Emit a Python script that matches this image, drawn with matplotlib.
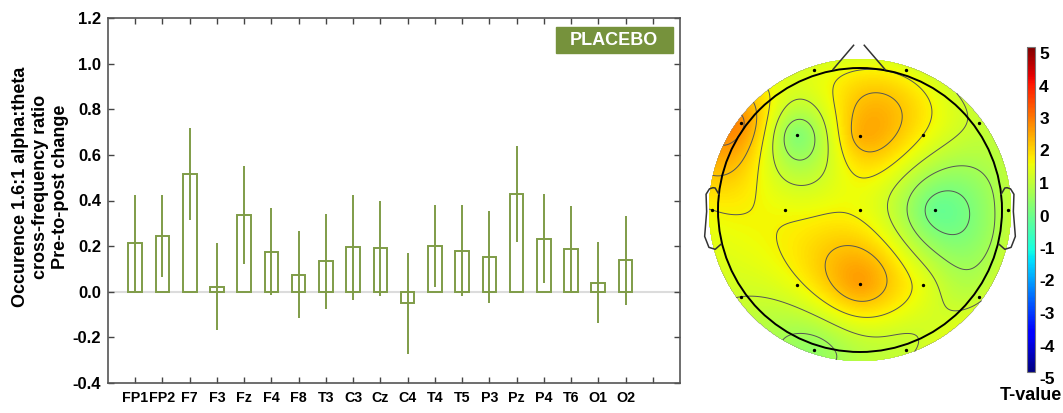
import numpy as np
import matplotlib
matplotlib.use('Agg')
import matplotlib.pyplot as plt
from matplotlib.patches import Circle, Rectangle
from matplotlib.transforms import ScaledTranslation

plt.rcParams['font.family'] = ['Liberation Sans', 'DejaVu Sans']
plt.rcParams['font.weight'] = 'bold'
plt.rcParams['axes.unicode_minus'] = False

# pre-to-post change per channel (mean and error half-width)
channels = ['FP1', 'FP2', 'F7', 'F3', 'Fz', 'F4', 'F8', 'T3', 'C3', 'Cz',
            'C4', 'T4', 'T5', 'P3', 'Pz', 'P4', 'T6', 'O1', 'O2']
change = [0.213, 0.243, 0.516, 0.022, 0.335, 0.175, 0.075, 0.133, 0.196, 0.190,
          -0.051, 0.199, 0.180, 0.152, 0.428, 0.232, 0.186, 0.039, 0.138]
err = [0.21, 0.18, 0.20, 0.19, 0.215, 0.19, 0.19, 0.21, 0.23, 0.21,
       0.223, 0.18, 0.20, 0.20, 0.21, 0.195, 0.19, 0.177, 0.195]

# electrode layout (angle from nose in deg, radius in head radii) and T-values
elec_theta = [-18, 18, -54, -40, 0, 40, 54, -90, -90, 0,
              90, 90, -126, -140, 180, 140, 126, -162, 162]
elec_rad = [1.04, 1.04, 1.04, 0.69, 0.52, 0.69, 1.04, 1.04, 0.53, 0.0,
            0.53, 1.04, 1.04, 0.69, 0.52, 0.69, 1.04, 1.04, 1.04]
tvals = [1.2, 1.3, 2.6, 0.15, 2.2, 1.5, 0.9, 1.5, 1.4, 1.4,
         -0.2, 0.8, 1.0, 1.4, 2.4, 1.3, 0.9, 0.3, 0.9]

green = '#7f9c47'

fig = plt.figure(figsize=(10.63, 4.13), dpi=100)

# ---- bar chart ----
ax = fig.add_axes([108 / 1063, 30 / 413, 572 / 1063, 365 / 413])
x = np.arange(1, len(channels) + 1)
ch = np.array(change)
er = np.array(err)
ax.axhline(0, color='#dcdcdc', lw=1.5, zorder=1)
ax.bar(x, ch, width=0.5, fill=False, edgecolor=green, linewidth=1.4, zorder=2)
ax.vlines(x, ch - er, ch + er, color=green, lw=1.4, zorder=3)

ax.set_xlim(0, len(channels) + 2)
ax.set_ylim(-0.4, 1.2)
ax.set_xticks(np.arange(1, len(channels) + 2))
ax.set_xticklabels(channels + [''])
yt = np.arange(-0.4, 1.21, 0.2)
ax.set_yticks(yt)
ax.set_yticklabels(['%.1f' % v for v in yt])
ax.tick_params(direction='in', top=True, right=True, length=4, width=1,
               color='#444444', labelsize=12)
ax.tick_params(axis='x', pad=6, labelsize=10.3)
ax.tick_params(axis='y', pad=5)
for s in ax.spines.values():
    s.set_color('#555555')
    s.set_linewidth(1.2)

ax.set_ylabel('Occurence 1.6:1 alpha:theta\ncross-frequency ratio\nPre-to-post change',
              fontsize=13, fontweight='bold', linespacing=1.2,
              ha='center', va='center', multialignment='center')
ax.yaxis.set_label_coords(-0.118, 0.537)

# group tag
ax.add_patch(Rectangle((0.783, 0.904), 0.2045, 0.0712, transform=ax.transAxes,
                       fc='#76923c', ec='#76923c', zorder=4))
ax.text(0.783 + 0.2045 / 2, 0.904 + 0.0712 / 2, 'PLACEBO', transform=ax.transAxes,
        ha='center', va='center', color='white', fontsize=13, fontweight='bold', zorder=5)

# ---- scalp map ----
R = 142.0
tax = fig.add_axes([690 / 1063, 33 / 413, 335 / 1063, 350 / 413])
tax.set_xlim(-170 / R, 165 / R)
tax.set_ylim(-170 / R, 180 / R)
tax.axis('off')

th = np.deg2rad(elec_theta)
ex = np.array(elec_rad) * np.sin(th)
ey = np.array(elec_rad) * np.cos(th)
tv = np.array(tvals)


def green_fn(d):
    out = np.zeros_like(d)
    m = d > 0
    out[m] = d[m] ** 2 * (np.log(d[m]) - 1)
    return out


# biharmonic spline interpolation over the scalp
dm = np.hypot(ex[:, None] - ex[None, :], ey[:, None] - ey[None, :])
w = np.linalg.solve(green_fn(dm), tv)
plotrad = 1.07
g = np.linspace(-plotrad, plotrad, 300)
gx, gy = np.meshgrid(g, g)
dg = np.hypot(gx[..., None] - ex, gy[..., None] - ey)
zi = green_fn(dg) @ w
outside = np.hypot(gx, gy) > plotrad
zi_m = np.ma.masked_where(outside, zi)

im = tax.imshow(zi_m, extent=[-plotrad, plotrad, -plotrad, plotrad], origin='lower',
                cmap='jet', vmin=-5, vmax=5, interpolation='bilinear', zorder=1)
clip = Circle((0, 0), plotrad, transform=tax.transData, fc='none', ec='none')
im.set_clip_path(clip)
cs = tax.contour(gx, gy, zi_m, levels=np.arange(-5, 5.01, 0.5), colors='#555555',
                 linewidths=0.7, zorder=2)

tax.add_patch(Circle((0, 0), 1.0, fill=False, ec='black', lw=1.4, zorder=3))
earx = np.array([0.994, 1.02, 1.036, 1.06, 1.084, 1.08, 1.094, 1.064, 1.02, 0.978])
eary = np.array([0.111, 0.155, 0.157, 0.149, 0.111, -0.011, -0.186, -0.263, -0.277, -0.24])
tax.plot(earx, eary, color='#333333', lw=1.1, zorder=3)
tax.plot(-earx, eary, color='#333333', lw=1.1, zorder=3)
tax.plot([-0.19, -0.045], [0.99, 1.16], color='#333333', lw=1.1, zorder=3)
tax.plot([0.03, 0.176], [1.16, 0.99], color='#333333', lw=1.1, zorder=3)
tax.scatter(ex, ey, s=2, color='black', zorder=4)

# colour scale
cax = fig.add_axes([1027 / 1063, 41 / 413, 8 / 1063, 325 / 413])
cb = fig.colorbar(im, cax=cax, ticks=np.arange(-5, 6, 1))
cb.outline.set_edgecolor('#777777')
cb.outline.set_linewidth(0.8)
cax.tick_params(length=0, labelsize=12.5, pad=3)
shift = ScaledTranslation(0, -6 / 100, fig.dpi_scale_trans)
for lab in cax.get_yticklabels():
    lab.set_fontweight('bold')
    lab.set_transform(lab.get_transform() + shift)
fig.text(1031 / 1063, 1 - 396 / 413, 'T-value', ha='center', va='center',
         fontsize=13, fontweight='bold')

fig.savefig('out.png', dpi=100)
